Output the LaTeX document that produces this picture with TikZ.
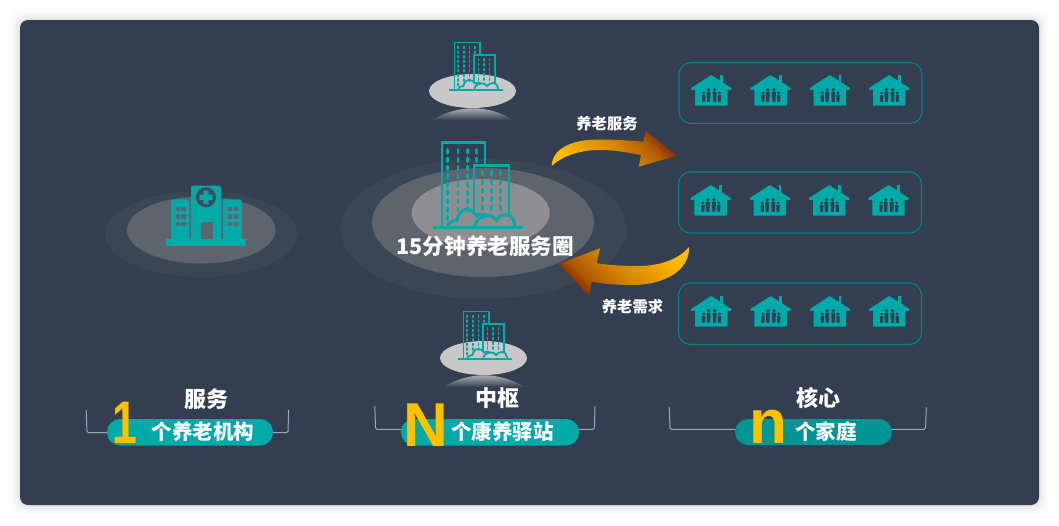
\documentclass[tikz,border=0pt]{standalone}
\usepackage{fontspec}
\setmainfont{Noto Sans CJK SC}
\newfontfamily\latfont{Liberation Sans}
\definecolor{bgc}{HTML}{333F50}
\definecolor{tealc}{HTML}{00AAA8}
\definecolor{tealb}{HTML}{009595}
\definecolor{boxc}{HTML}{00868A}
\definecolor{outerc}{HTML}{3B4654}
\definecolor{midc}{HTML}{5E646E}
\definecolor{innerc}{HTML}{8F8E93}
\definecolor{plate}{HTML}{C9C8C9}
\definecolor{yel}{HTML}{FFC000}
\definecolor{brk}{HTML}{A3A6AB}
\definecolor{arrA}{HTML}{FFBC00}
\definecolor{arrB}{HTML}{E89C00}
\definecolor{arrM}{HTML}{D48600}
\definecolor{arrD}{HTML}{B05A00}
\definecolor{arrC}{HTML}{7A1400}
\pgfdeclareverticalshading{arrg}{100bp}{color(0bp)=(arrC);color(21bp)=(arrC);color(33bp)=(arrD);color(48bp)=(arrM);color(60bp)=(arrB);color(75bp)=(arrA);color(100bp)=(arrA)}
\tikzset{
  lbl/.style={text=white,font=\bfseries,inner sep=0pt},
  big/.style={text=yel,font=\latfont\bfseries\fontsize{62}{62}\selectfont,inner sep=0pt,anchor=base},
  pill/.style={fill=tealc,rounded corners=13pt},
  hbox/.style={draw=boxc,line width=1.1pt,rounded corners=12pt},
  bracket/.style={draw=brk,line width=1pt,rounded corners=1.5pt},
  twr/.style={draw=tealc,line join=miter},
}
% #1 x, #2 y, #3 xscale, #4 yscale, #5 line width, #6 window width
\newcommand{\bldg}[6]{%
\begin{scope}[shift={(#1,#2)},xscale=#3,yscale=#4]
 \foreach \cx in {-30.3,-20,-10.7,-1.3}{\foreach \cy in {-76,-67.6,-59.3,-51,-42.7,-34.4,-26,-17.7}{%
   \ifdim\cy pt>-60pt \ifdim\cx pt>-5pt \else \draw[tealc,line width=#6,line cap=round] (\cx,\cy-1.8) -- (\cx,\cy+1.8);\fi
   \else \draw[tealc,line width=#6,line cap=round] (\cx,\cy-1.8) -- (\cx,\cy+1.8);\fi}}
 \draw[tealc,line width=#6,line cap=round] (-30.3,-9.5-1.8)--(-30.3,-9.5+1.8);
 \foreach \cx in {4.3,13.7,22.7}{\foreach \cy in {-54,-45.3,-36.6,-28,-19.5}{%
   \draw[tealc,line width=#6,line cap=round] (\cx,\cy-1.8) -- (\cx,\cy+1.8);}}
 \draw[twr,line width=#5] (-36,0) -- (-36,-85) -- (7,-85) -- (7,-62);
 \draw[twr,line width=#5] (-4,-14) -- (-4,-62) -- (31,-62) -- (31,-12);
 \draw[twr,line width=#5,line cap=round] (-30.7,0) .. controls (-29,-5) and (-25,-7.5) .. (-21,-7)
   .. controls (-20,-15) and (-14,-18) .. (-11.3,-18) .. controls (-7,-18) and (-3,-15) .. (-1.3,-11.5)
   .. controls (1,-13.5) and (5,-14) .. (8,-12);
 \draw[twr,line width=#5,line cap=round] (-3,0) .. controls (-3,-7) and (3,-11.7) .. (10,-11.7)
   .. controls (14,-11.7) and (17,-9.5) .. (18.5,-7) .. controls (20,-10) and (24,-12.5) .. (28,-12.5)
   .. controls (34,-12.5) and (37,-6) .. (37,0);
 \draw[tealc,line width=#5] (-45,0) -- (45,0);
\end{scope}}
% #1 centre x, #2 apex y
\newcommand{\hse}[2]{%
\begin{scope}[shift={(#1,#2)}]
 \fill[tealc] (8.7,0) rectangle (11.5,9);
 \fill[tealc,rounded corners=.6pt] (0,0) -- (20.4,13.2) -- (19.8,15) -- (16.2,14.6) -- (16.2,30.7) -- (-16.2,30.7) -- (-16.2,14.6) -- (-19.8,15) -- (-20.4,13.2) -- cycle;
 \fill[bgc] (-2.8,14.7) circle[radius=1.8pt] (3.3,14.7) circle[radius=1.8pt] (-7.6,18) circle[radius=1.6pt] (8.1,18) circle[radius=1.6pt];
 \fill[bgc,rounded corners=.5pt] (-4.8,16.7) -- (-.8,16.7) -- (-1.3,26.8) -- (-4.3,26.8) -- cycle;
 \fill[bgc,rounded corners=.5pt] (1.3,16.7) -- (5.3,16.7) -- (4.8,26.8) -- (1.8,26.8) -- cycle;
 \fill[bgc,rounded corners=.5pt] (-9.4,20) -- (-5.8,20) -- (-6.2,26.8) -- (-9,26.8) -- cycle;
 \fill[bgc,rounded corners=.5pt] (6.3,20) -- (9.9,20) -- (9.5,26.8) -- (6.7,26.8) -- cycle;
\end{scope}}
\newcommand{\hrow}[2]{\hse{#1}{#2}\hse{#1+59.3}{#2}\hse{#1+118.6}{#2}\hse{#1+177.9}{#2}}
\begin{document}
\begin{tikzpicture}[x=1pt,y=-1pt]
\useasboundingbox (0,0) rectangle (1059,525);
\fill[white] (0,0) rectangle (1059,525);
% card shadow
\foreach \d/\c in {10/1,8/2,6/3,4/4,2/5}{
  \fill[black,opacity=.006*\c,rounded corners=10pt] (20-\d,20-\d) rectangle (1039+\d,505+\d);}
\fill[bgc,rounded corners=8pt] (20,20) rectangle (1039,505);
% left plates
\fill[outerc] (201,234) ellipse[x radius=96pt,y radius=43pt];
\fill[midc] (201.3,230) ellipse[x radius=74.3pt,y radius=33.5pt];
% hospital
\fill[tealc,rounded corners=1.5pt] (171,240) -- (171,199.3) -- (189,199.3) -- (189,240) -- cycle;
\fill[tealc,rounded corners=1.5pt] (223,240) -- (223,199.3) -- (241.7,199.3) -- (241.7,240) -- cycle;
\fill[tealc,rounded corners=1.5pt] (191,240) -- (191,185.7) -- (221,185.7) -- (221,240) -- cycle;
\fill[tealc] (166,239) rectangle (246,245.5);
\fill[bgc!75!midc] (206,197.3) circle[radius=10pt];
\fill[tealc] (203.3,190.5) rectangle (208.7,204) (199.3,194.7) rectangle (212.7,200);
\fill[midc] (200.7,222.3) rectangle (212.7,239);
\foreach \wx in {175.7,181.2}{\foreach \wy in {207,214.3,221.7}{\fill[midc] (\wx,\wy) rectangle +(4.4,4.3);}}
\foreach \wx in {228,233.5}{\foreach \wy in {207,214.3,221.7}{\fill[midc] (\wx,\wy) rectangle +(4.4,4.3);}}
% centre plates
\fill[outerc] (483.3,229) ellipse[x radius=143pt,y radius=70pt];
\fill[midc] (483,222.5) ellipse[x radius=111pt,y radius=54.5pt];
\fill[innerc] (480.7,213) ellipse[x radius=69pt,y radius=34pt];
\bldg{478}{227.3}{1}{1}{2.9pt}{2.6pt}
% top plate
\fill[plate] (472.5,91) ellipse[x radius=43.5pt,y radius=17pt];
\shade[top color=plate!80!bgc,bottom color=bgc] (433,120) .. controls (445,112) and (460,108.3) .. (473,108.3) .. controls (486,108.3) and (501,112) .. (513,120) -- cycle;
\bldg{476}{90}{.6}{.56}{1.8pt}{1.7pt}
% bottom plate
\fill[plate] (483.5,358) ellipse[x radius=43.5pt,y radius=17pt];
\shade[top color=plate!80!bgc,bottom color=bgc] (444,387) .. controls (456,379) and (471,375.3) .. (484,375.3) .. controls (497,375.3) and (512,379) .. (524,387) -- cycle;
\bldg{485}{359}{.6}{.56}{1.8pt}{1.7pt}
% house boxes
\draw[hbox] (679,62.5) rectangle (922,123.5);
\draw[hbox] (678.5,172) rectangle (921.5,233);
\draw[hbox] (678.5,283) rectangle (921.5,344.5);
\hrow{711.3}{75}
\hrow{710.6}{185}
\hrow{711.3}{296}
% arrows
\shade[shading=arrg,shading angle=135]
  (551.7,166) .. controls (552,150) and (570,139) .. (600,139.5) .. controls (615,139.5) and (630,140.5) .. (643.3,141.7)
  -- (646,131) -- (677,155.7) -- (638.7,166.7) -- (641,155) .. controls (625,152) and (615,150) .. (600,150) .. controls (580,150) and (562,156) .. (551.7,166) -- cycle;
\shade[shading=arrg,shading angle=-45]
  (689,247) .. controls (680,258) and (662,266) .. (638,266) .. controls (622,266) and (608,265) .. (596.7,263.3)
  -- (600,248.3) -- (559.3,263.7) -- (589,296) -- (591.7,281.7) .. controls (605,284) and (618,285) .. (632,285) .. controls (665,285) and (690,270) .. (689,247) -- cycle;
% texts
\node[lbl,font=\bfseries\fontsize{21.6}{24}\selectfont] (title) at (485.3,246.5) {15分钟养老服务圈};
\node[lbl,font=\bfseries\fontsize{15.3}{18}\selectfont] (svc) at (607,124) {养老服务};
\node[lbl,font=\bfseries\fontsize{15.3}{18}\selectfont] (need) at (632.5,306.5) {养老需求};
% brackets
\draw[bracket] (86.2,410) -- (87,432.7) -- (288,432.7) -- (288.6,410);
\draw[bracket] (374.8,406) -- (375.6,429.3) -- (594.4,429.3) -- (595,406);
\draw[bracket] (669.3,407.3) -- (670,429.3) -- (925.6,429.3) -- (926.3,407.3);
% pills
\fill[pill,fill=tealc] (107,419) rectangle (273,445.5);
\fill[pill,fill=tealc] (401,419) rectangle (579,445.5);
\fill[pill,fill=tealb] (735,419) rectangle (892,445);
\node[lbl,font=\bfseries\fontsize{22}{24}\selectfont] (t1) at (206,399) {服务};
\node[lbl,font=\bfseries\fontsize{22}{24}\selectfont] (t2) at (497,398.5) {中枢};
\node[lbl,font=\bfseries\fontsize{22}{24}\selectfont] (t3) at (818,398) {核心};
\node[lbl,font=\bfseries\fontsize{20.5}{24}\selectfont] (p1) at (203,431.5) {个养老机构};
\node[lbl,font=\bfseries\fontsize{20.5}{24}\selectfont] (p2) at (502.7,431.5) {个康养驿站};
\node[lbl,font=\bfseries\fontsize{20.5}{24}\selectfont] (p3) at (826,431.5) {个家庭};
\node[big,xscale=.72,yscale=.97] (n1) at (125,443.3) {1};
\node[big] (n2) at (425.5,446) {N};
\node[big] (n3) at (768,443.3) {n};
\end{tikzpicture}
\end{document}
